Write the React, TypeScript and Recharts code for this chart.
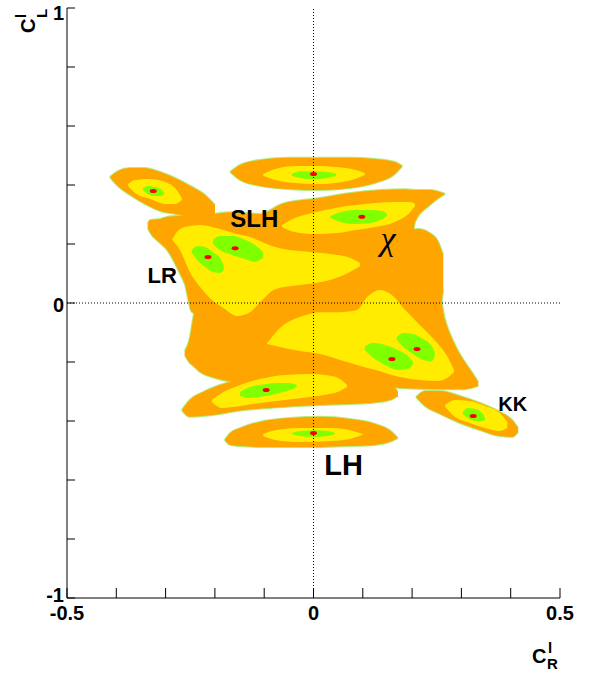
import React from 'react';
import { ComposedChart, Area, Scatter, XAxis, YAxis, ReferenceLine } from 'recharts';

type Row = [number, number, number]; // [C_R, lower C_L, upper C_L] of a contour band

// ---- outermost (orange) contour pieces ----
const orangeA: Row[] = [
  [-0.413, 0.427, 0.427], [-0.397, 0.397, 0.447], [-0.372, 0.366, 0.458], [-0.342, 0.336, 0.458],
  [-0.311, 0.312, 0.444], [-0.281, 0.302, 0.424], [-0.25, 0.295, 0.397], [-0.22, 0.292, 0.366],
  [-0.2, 0.298, 0.332],
];
const orangeB: Row[] = [
  [-0.169, 0.444, 0.444], [-0.149, 0.417, 0.468], [-0.109, 0.397, 0.485], [-0.048, 0.386, 0.492],
  [0.013, 0.383, 0.492], [0.074, 0.39, 0.492], [0.125, 0.407, 0.488], [0.165, 0.437, 0.478],
  [0.18, 0.464, 0.464],
];
const orangeUpper: Row[] = [
  [-0.336, 0.254, 0.268], [-0.332, 0.241, 0.281], [-0.311, 0.203, 0.285], [-0.297, 0.18, 0.292],
  [-0.271, 0.1, 0.296], [-0.261, 0.064, 0.298], [-0.247, -0.03, 0.302], [-0.21, -0.058, 0.302],
  [-0.169, -0.058, 0.308], [-0.109, -0.058, 0.302], [-0.064, -0.058, 0.336], [0.013, -0.058, 0.356],
  [0.074, -0.058, 0.373], [0.135, -0.058, 0.383], [0.186, -0.058, 0.386], [0.206, 0.275, 0.383],
  [0.236, 0.332, 0.383], [0.267, 0.37, 0.37],
];
const orangeRight: Row[] = [
  [0.186, -0.058, 0.248], [0.212, -0.092, 0.251], [0.236, -0.092, 0.237], [0.253, -0.058, 0.207],
  [0.263, 0.044, 0.163],
];
const orangeLower: Row[] = [
  [-0.261, -0.176, -0.163], [-0.251, -0.203, -0.119], [-0.243, -0.214, -0.041], [-0.23, -0.234, 0.044],
  [-0.2, -0.254, 0.044], [-0.149, -0.268, 0.044], [-0.068, -0.268, 0.044], [0.074, -0.278, 0.044],
  [0.175, -0.288, 0.044], [0.251, -0.292, 0.061], [0.267, -0.292, -0.058], [0.287, -0.292, -0.142],
  [0.307, -0.292, -0.2], [0.321, -0.288, -0.234], [0.334, -0.281, -0.268],
];
const orangeD: Row[] = [
  [-0.267, -0.363, -0.363], [-0.251, -0.386, -0.329], [-0.224, -0.383, -0.302], [-0.19, -0.376, -0.278],
  [-0.155, -0.366, -0.261], [-0.088, -0.356, -0.241], [0.013, -0.346, -0.234], [0.115, -0.339, -0.244],
  [0.155, -0.329, -0.268], [0.171, -0.315, -0.302],
];
const orangeE: Row[] = [
  [-0.18, -0.464, -0.464], [-0.169, -0.481, -0.441], [-0.149, -0.485, -0.424], [-0.109, -0.488, -0.403],
  [-0.048, -0.488, -0.39], [0.013, -0.488, -0.386], [0.074, -0.485, -0.393], [0.125, -0.481, -0.41],
  [0.159, -0.468, -0.437], [0.171, -0.458, -0.458],
];
const orangeK: Row[] = [
  [0.208, -0.319, -0.319], [0.226, -0.349, -0.298], [0.257, -0.376, -0.298], [0.297, -0.407, -0.315],
  [0.338, -0.431, -0.339], [0.378, -0.451, -0.369], [0.403, -0.454, -0.397], [0.415, -0.437, -0.424],
];

// ---- middle (yellow) contour pieces ----
const yellowA: Row[] = [
  [-0.376, 0.397, 0.403], [-0.362, 0.373, 0.417], [-0.332, 0.353, 0.42], [-0.301, 0.336, 0.41],
  [-0.281, 0.336, 0.39], [-0.267, 0.349, 0.356],
];
const yellowB: Row[] = [
  [-0.102, 0.431, 0.437], [-0.078, 0.417, 0.454], [-0.038, 0.407, 0.464], [0.003, 0.403, 0.464],
  [0.044, 0.407, 0.461], [0.078, 0.417, 0.454], [0.104, 0.434, 0.441],
];
const yellowC: Row[] = [
  [-0.064, 0.258, 0.264], [-0.038, 0.241, 0.288], [0.003, 0.234, 0.308], [0.044, 0.237, 0.322],
  [0.084, 0.247, 0.332], [0.125, 0.258, 0.339], [0.165, 0.275, 0.342], [0.196, 0.308, 0.342],
  [0.206, 0.329, 0.336],
];
const yellowLR: Row[] = [
  [-0.287, 0.214, 0.214], [-0.271, 0.18, 0.251], [-0.251, 0.105, 0.261], [-0.23, 0.054, 0.264],
  [-0.206, 0.01, 0.258], [-0.18, -0.02, 0.247], [-0.155, -0.044, 0.234], [-0.129, -0.031, 0.224],
  [-0.104, 0.01, 0.207], [-0.078, 0.047, 0.19], [-0.027, 0.061, 0.176], [0.034, 0.078, 0.166],
  [0.074, 0.105, 0.153], [0.094, 0.125, 0.136],
];
const yellowLow: Row[] = [
  [-0.094, -0.139, -0.136], [-0.068, -0.149, -0.085], [-0.027, -0.163, -0.047], [0.013, -0.173, -0.031],
  [0.054, -0.193, -0.031], [0.088, -0.21, -0.024], [0.109, -0.22, 0.02], [0.135, -0.231, 0.044],
  [0.159, -0.244, 0.027], [0.186, -0.254, -0.024], [0.216, -0.261, -0.075], [0.251, -0.264, -0.136],
  [0.271, -0.254, -0.18], [0.285, -0.234, -0.227],
];
const yellowD: Row[] = [
  [-0.206, -0.336, -0.329], [-0.186, -0.356, -0.305], [-0.149, -0.349, -0.278], [-0.109, -0.339, -0.258],
  [-0.058, -0.329, -0.244], [-0.007, -0.319, -0.241], [0.034, -0.308, -0.247], [0.054, -0.298, -0.258],
  [0.068, -0.285, -0.278],
];
const yellowE: Row[] = [
  [-0.102, -0.451, -0.444], [-0.078, -0.464, -0.431], [-0.027, -0.471, -0.424], [0.034, -0.468, -0.424],
  [0.074, -0.461, -0.431], [0.1, -0.447, -0.444],
];
const yellowK: Row[] = [
  [0.267, -0.352, -0.346], [0.287, -0.386, -0.329], [0.317, -0.407, -0.332], [0.348, -0.424, -0.349],
  [0.378, -0.434, -0.373], [0.393, -0.424, -0.403],
];

// ---- inner (green) contour pieces ----
const greenA: Row[] = [
  [-0.346, 0.383, 0.39], [-0.336, 0.369, 0.397], [-0.322, 0.363, 0.393], [-0.307, 0.363, 0.383],
  [-0.303, 0.37, 0.373],
];
const greenB: Row[] = [
  [-0.044, 0.431, 0.437], [-0.027, 0.424, 0.447], [-0.001, 0.42, 0.447], [0.029, 0.424, 0.444],
  [0.046, 0.431, 0.437],
];
const greenC: Row[] = [
  [0.034, 0.288, 0.295], [0.054, 0.275, 0.308], [0.084, 0.268, 0.315], [0.115, 0.271, 0.315],
  [0.139, 0.285, 0.312], [0.149, 0.295, 0.302],
];
const greenLR1: Row[] = [
  [-0.247, 0.17, 0.18], [-0.236, 0.146, 0.193], [-0.22, 0.122, 0.19], [-0.204, 0.105, 0.173],
  [-0.19, 0.102, 0.153], [-0.182, 0.112, 0.129],
];
const greenLR2: Row[] = [
  [-0.204, 0.2, 0.214], [-0.19, 0.18, 0.227], [-0.165, 0.163, 0.227], [-0.139, 0.149, 0.214],
  [-0.119, 0.139, 0.197], [-0.102, 0.153, 0.173],
];
const greenLow3: Row[] = [
  [0.104, -0.159, -0.149], [0.119, -0.183, -0.136], [0.145, -0.21, -0.142], [0.171, -0.227, -0.159],
  [0.192, -0.224, -0.18], [0.202, -0.207, -0.2],
];
const greenLow4: Row[] = [
  [0.169, -0.125, -0.115], [0.182, -0.149, -0.102], [0.202, -0.173, -0.105], [0.222, -0.193, -0.122],
  [0.24, -0.197, -0.146], [0.246, -0.181, -0.166],
];
const greenD: Row[] = [
  [-0.149, -0.315, -0.302], [-0.129, -0.322, -0.285], [-0.098, -0.315, -0.275], [-0.068, -0.305, -0.271],
  [-0.048, -0.295, -0.271], [-0.034, -0.285, -0.278],
];
const greenE: Row[] = [
  [-0.044, -0.444, -0.441], [-0.027, -0.451, -0.434], [0.003, -0.454, -0.431], [0.029, -0.451, -0.434],
  [0.044, -0.444, -0.441],
];
const greenK: Row[] = [
  [0.303, -0.376, -0.369], [0.313, -0.39, -0.356], [0.328, -0.4, -0.359], [0.344, -0.4, -0.376],
  [0.348, -0.397, -0.39],
];

// ---- best-fit points (red) ----
const bestX = [-0.325, 0.0, 0.098, -0.214, -0.159, -0.096, 0.0, 0.159, 0.21, 0.324];
const bestY = [0.38, 0.437, 0.292, 0.156, 0.186, -0.295, -0.441, -0.19, -0.156, -0.383];

// ---- model names ----
const modelNames = ['SLH', 'LR', 'χ', 'LH', 'KK'];
const modelX = [-0.12, -0.307, 0.151, 0.061, 0.404];
const modelY = [0.258, 0.068, 0.18, -0.583, -0.366];

// ---- axes ----
const xTicks = [-0.5, -0.4, -0.3, -0.2, -0.1, 0, 0.1, 0.2, 0.3, 0.4, 0.5];
const xTickLabels = ['-0.5', '0', '0.5'];
const yTicks = [-1, -0.8, -0.6, -0.4, -0.2, 0, 0.2, 0.4, 0.6, 0.8, 1];
const yTickLabels = ['-1', '0', '1'];

const orangeShapes = [orangeA, orangeB, orangeUpper, orangeRight, orangeLower, orangeD, orangeE, orangeK];
const yellowShapes = [yellowA, yellowB, yellowC, yellowLR, yellowLow, yellowD, yellowE, yellowK];
const greenShapes = [greenA, greenB, greenC, greenLR1, greenLR2, greenLow3, greenLow4, greenD, greenE, greenK];

const toSeries = (rows: Row[]) => rows.map(([x, lo, hi]) => ({ x, r: [lo, hi] }));
const bestPoints = bestX.map((x, i) => ({ x, y: bestY[i] }));
const modelPoints = modelNames.map((name, i) => ({ x: modelX[i], y: modelY[i], name }));

const FONT = '"Liberation Sans", Arial, Helvetica, sans-serif';
const ORANGE = '#FFA500';
const YELLOW = '#FFEC00';
const GREEN = '#80FF00';
const RED = '#FF0000';

const nameStyle: Record<string, { size: number; serif?: boolean }> = {
  SLH: { size: 24 },
  LR: { size: 22 },
  'χ': { size: 34, serif: true },
  LH: { size: 29 },
  KK: { size: 20 },
};

const XTick = (props: any) => {
  const { x, y, payload } = props;
  const s = String(payload.value);
  const show = xTickLabels.includes(s);
  return (
    <g>
      <line x1={x} x2={x} y1={y} y2={y - 10} stroke="#000" strokeWidth={1} />
      {show && (
        <text x={x} y={y + 22} textAnchor="middle" fontFamily={FONT} fontWeight="bold" fontSize={20} fill="#000">
          {s}
        </text>
      )}
    </g>
  );
};

const YTick = (props: any) => {
  const { x, y, payload } = props;
  const s = String(payload.value);
  const show = yTickLabels.includes(s);
  const dy = s === '1' ? 12 : s === '-1' ? 4 : 9;
  return (
    <g>
      <line x1={x} x2={x + 8} y1={y} y2={y} stroke="#000" strokeWidth={1} />
      {show && (
        <text x={x - 3} y={y + dy} textAnchor="end" fontFamily={FONT} fontWeight="bold" fontSize={20} fill="#000">
          {s}
        </text>
      )}
    </g>
  );
};

const XTitle = (props: any) => {
  const vb = props.viewBox || { x: 67, y: 598, width: 493, height: 40 };
  const right = vb.x + vb.width;
  const top = vb.y;
  return (
    <g fontFamily={FONT} fontWeight="bold" fill="#000">
      <text x={right - 28} y={top + 65} fontSize={20}>C</text>
      <text x={right - 12} y={top + 55} fontSize={15}>l</text>
      <text x={right - 13} y={top + 71} fontSize={15}>R</text>
    </g>
  );
};

const YTitle = (props: any) => {
  const vb = props.viewBox || { x: 7, y: 8, width: 60, height: 590 };
  const ax = vb.x + 28;
  const ay = vb.y + 25;
  return (
    <g transform={`translate(${ax},${ay}) rotate(-90)`} fontFamily={FONT} fontWeight="bold" fill="#000">
      <text x={0} y={0} fontSize={20}>C</text>
      <text x={15} y={-9} fontSize={15}>l</text>
      <text x={15} y={12} fontSize={15}>L</text>
    </g>
  );
};

const BestDot = (props: any) => {
  const { cx, cy } = props;
  if (cx == null || cy == null) return null;
  return <ellipse cx={cx} cy={cy} rx={3.5} ry={2} fill={RED} />;
};

const ModelLabel = (props: any) => {
  const { cx, cy, payload } = props;
  if (cx == null || cy == null) return null;
  const st = nameStyle[payload.name] || { size: 20 };
  return (
    <text
      x={cx}
      y={cy}
      textAnchor="middle"
      fontFamily={st.serif ? '"Liberation Serif", "DejaVu Serif", serif' : FONT}
      fontStyle={st.serif ? 'italic' : 'normal'}
      fontWeight={st.serif ? 'normal' : 'bold'}
      fontSize={st.size}
      fill="#000"
    >
      {payload.name}
    </text>
  );
};

export default function App() {
  return (
    <div style={{ position: 'absolute', left: 0, top: 0, background: '#fff' }}>
      <ComposedChart width={591} height={675} margin={{ top: 8, right: 31, bottom: 37, left: 7 }}>
        <XAxis
          xAxisId={0}
          dataKey="x"
          type="number"
          domain={[-0.5, 0.5]}
          allowDataOverflow
          ticks={xTicks}
          interval={0}
          tick={<XTick />}
          tickLine={false}
          tickSize={0}
          tickMargin={0}
          height={40}
          axisLine={{ stroke: '#000', strokeWidth: 1 }}
          label={(p: any) => <XTitle {...p} />}
        />
        <XAxis
          xAxisId="top"
          orientation="top"
          type="number"
          domain={[-0.5, 0.5]}
          allowDataOverflow
          tick={false}
          tickLine={false}
          height={0}
          axisLine={{ stroke: '#000', strokeWidth: 1 }}
        />
        <YAxis
          yAxisId={0}
          dataKey="y"
          type="number"
          domain={[-1, 1]}
          allowDataOverflow
          ticks={yTicks}
          interval={0}
          tick={<YTick />}
          tickLine={false}
          tickSize={0}
          tickMargin={0}
          width={60}
          axisLine={{ stroke: '#000', strokeWidth: 1 }}
          label={(p: any) => <YTitle {...p} />}
        />
        <YAxis
          yAxisId="right"
          orientation="right"
          type="number"
          domain={[-1, 1]}
          allowDataOverflow
          tick={false}
          tickLine={false}
          width={0}
          axisLine={{ stroke: '#000', strokeWidth: 1 }}
        />
        {orangeShapes.map((s, i) => (
          <Area
            key={'oe' + i}
            data={toSeries(s)}
            dataKey="r"
            type="monotone"
            fill={ORANGE}
            fillOpacity={1}
            stroke="#B4EE80"
            strokeWidth={2}
            dot={false}
            activeDot={false}
            isAnimationActive={false}
          />
        ))}
        {orangeShapes.map((s, i) => (
          <Area
            key={'o' + i}
            data={toSeries(s)}
            dataKey="r"
            type="monotone"
            fill={ORANGE}
            fillOpacity={1}
            stroke="none"
            dot={false}
            activeDot={false}
            isAnimationActive={false}
          />
        ))}
        {yellowShapes.map((s, i) => (
          <Area
            key={'y' + i}
            data={toSeries(s)}
            dataKey="r"
            type="monotone"
            fill={YELLOW}
            fillOpacity={1}
            stroke="none"
            dot={false}
            activeDot={false}
            isAnimationActive={false}
          />
        ))}
        {greenShapes.map((s, i) => (
          <Area
            key={'g' + i}
            data={toSeries(s)}
            dataKey="r"
            type="monotone"
            fill={GREEN}
            fillOpacity={1}
            stroke="none"
            dot={false}
            activeDot={false}
            isAnimationActive={false}
          />
        ))}
        <Scatter data={bestPoints} dataKey="y" shape={<BestDot />} isAnimationActive={false} />
        <ReferenceLine x={0} stroke="#000" strokeWidth={1} strokeDasharray="1 2" />
        <ReferenceLine y={0} stroke="#000" strokeWidth={1} strokeDasharray="1 2" />
        <Scatter data={modelPoints} dataKey="y" shape={<ModelLabel />} isAnimationActive={false} />
      </ComposedChart>
    </div>
  );
}
